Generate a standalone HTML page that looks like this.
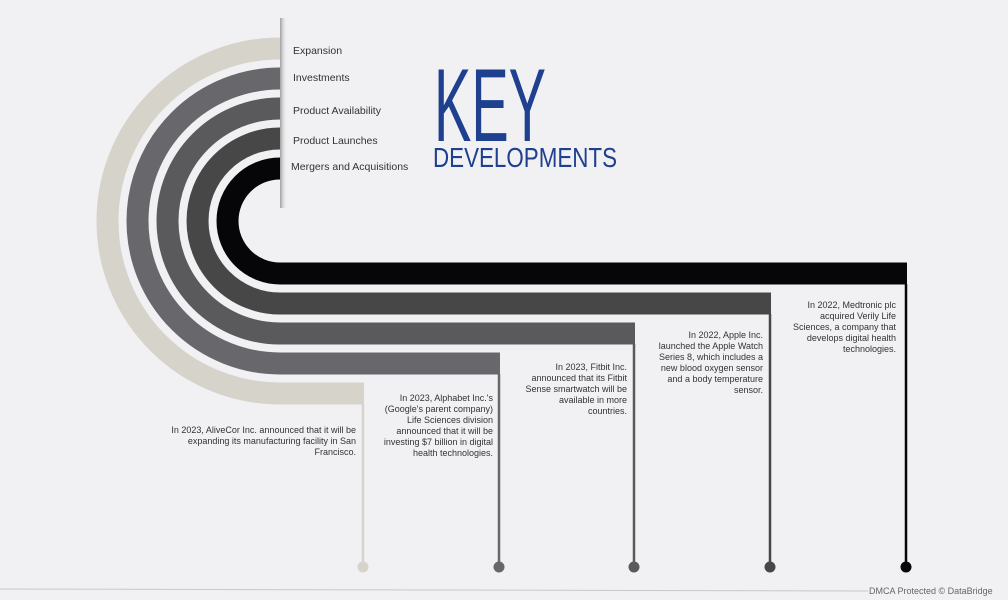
<!DOCTYPE html>
<html><head><meta charset="utf-8"><style>
html,body{margin:0;padding:0;background:#f1f1f3;}
svg{display:block;font-family:"Liberation Sans",sans-serif;}
</style></head><body>
<svg width="1008" height="600" viewBox="0 0 1008 600" xmlns="http://www.w3.org/2000/svg">
<defs>
<linearGradient id="sh" x1="0" x2="1" y1="0" y2="0">
<stop offset="0" stop-color="#666" stop-opacity="0.6"/>
<stop offset="1" stop-color="#f1f1f3" stop-opacity="0"/>
</linearGradient>
<linearGradient id="ln" x1="0" x2="1"><stop offset="0" stop-color="#999" stop-opacity="0"/><stop offset="0.5" stop-color="#999"/><stop offset="1" stop-color="#999" stop-opacity="0"/></linearGradient>
</defs>
<rect width="1008" height="600" fill="#f1f1f3"/>
<g fill="none" stroke-width="22" stroke-linecap="butt">
<path d="M280,48.5 A172.5,172.5 0 0 0 280,393.5 L364,393.5" stroke="#d6d3cb"/>
<path d="M280,78.5 A142.5,142.5 0 0 0 280,363.5 L500,363.5" stroke="#68686c"/>
<path d="M280,108.5 A112.5,112.5 0 0 0 280,333.5 L635,333.5" stroke="#5a5a5c"/>
<path d="M280,138.5 A82.5,82.5 0 0 0 280,303.5 L771,303.5" stroke="#474747"/>
<path d="M280,168.5 A52.5,52.5 0 0 0 280,273.5 L907,273.5" stroke="#060608"/>
</g>
<g stroke-width="2.5">
<line x1="363" y1="404" x2="363" y2="567" stroke="#d6d3cb"/>
<line x1="499" y1="374" x2="499" y2="567" stroke="#68686c"/>
<line x1="634" y1="344" x2="634" y2="567" stroke="#5a5a5c"/>
<line x1="770" y1="314" x2="770" y2="567" stroke="#474747"/>
<line x1="906" y1="284" x2="906" y2="567" stroke="#060608"/>
</g>
<circle cx="363" cy="567" r="5.5" fill="#d6d3cb"/>
<circle cx="499" cy="567" r="5.5" fill="#68686c"/>
<circle cx="634" cy="567" r="5.5" fill="#5a5a5c"/>
<circle cx="770" cy="567" r="5.5" fill="#474747"/>
<circle cx="906" cy="567" r="5.5" fill="#060608"/>
<rect x="280" y="18" width="7" height="190" fill="url(#sh)"/>
<g stroke="url(#ln)" stroke-width="1">
<line x1="283" y1="65" x2="320" y2="65"/>
<line x1="283" y1="94" x2="320" y2="94"/>
<line x1="283" y1="125" x2="320" y2="125"/>
<line x1="283" y1="154" x2="320" y2="154"/>
</g>
<g font-size="10.5" fill="#333">
<text x="293" y="54">Expansion</text>
<text x="293" y="81">Investments</text>
<text x="293" y="114">Product Availability</text>
<text x="293" y="144">Product Launches</text>
<text x="291" y="170">Mergers and Acquisitions</text>
</g>
<text x="434" y="141" font-size="104" fill="#1f3f8f" textLength="112" lengthAdjust="spacingAndGlyphs">KEY</text>
<text x="433" y="167" font-size="28" fill="#1f3f8f" textLength="184" lengthAdjust="spacingAndGlyphs">DEVELOPMENTS</text>
<g font-size="9" fill="#333" text-anchor="end">
<text x="356" y="433">In 2023, AliveCor Inc. announced that it will be</text>
<text x="356" y="444">expanding its manufacturing facility in San</text>
<text x="356" y="455">Francisco.</text>
<text x="493" y="401">In 2023, Alphabet Inc.'s</text>
<text x="493" y="412">(Google's parent company)</text>
<text x="493" y="423">Life Sciences division</text>
<text x="493" y="434">announced that it will be</text>
<text x="493" y="445">investing $7 billion in digital</text>
<text x="493" y="456">health technologies.</text>
<text x="627" y="370">In 2023, Fitbit Inc.</text>
<text x="627" y="381">announced that its Fitbit</text>
<text x="627" y="392">Sense smartwatch will be</text>
<text x="627" y="403">available in more</text>
<text x="627" y="414">countries.</text>
<text x="763" y="338">In 2022, Apple Inc.</text>
<text x="763" y="349">launched the Apple Watch</text>
<text x="763" y="360">Series 8, which includes a</text>
<text x="763" y="371">new blood oxygen sensor</text>
<text x="763" y="382">and a body temperature</text>
<text x="763" y="393">sensor.</text>
<text x="896" y="308">In 2022, Medtronic plc</text>
<text x="896" y="319">acquired Verily Life</text>
<text x="896" y="330">Sciences, a company that</text>
<text x="896" y="341">develops digital health</text>
<text x="896" y="352">technologies.</text>
</g>
<line x1="0" y1="589" x2="868" y2="591" stroke="#c8c8c8" stroke-width="1"/>
<text x="869" y="594" font-size="9" fill="#666">DMCA Protected © DataBridge</text>
</svg>
</body></html>
